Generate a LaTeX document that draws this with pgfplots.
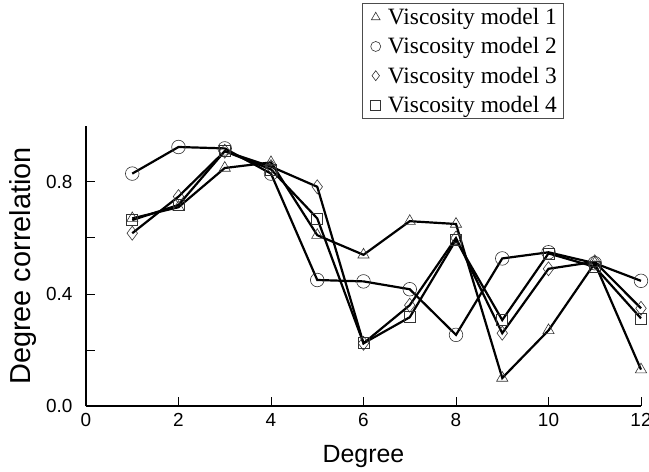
\documentclass[border=0pt]{standalone}
\usepackage{fontspec}
\setmainfont{Liberation Serif}
\setsansfont{Liberation Sans}
\usepackage{pgfplots}
\pgfplotsset{compat=1.18}
\begin{document}
\begin{tikzpicture}
\begin{axis}[
  name=ax,
  scale only axis,
  width=555bp, height=280bp,
  xmin=0, xmax=12, ymin=0, ymax=1.0,
  axis x line=bottom, axis y line=left,
  axis line style={-, line width=2bp},
  tick align=inside,
  major tick length=9bp,
  tick style={line width=1bp, black},
  xtick={0,2,...,12},
  ytick={0,0.2,0.4,0.6,0.8},
  yticklabels={0.0,,0.4,,0.8},
  /pgf/number format/assume math mode=true,
  ticklabel style={font=\sffamily\fontsize{19}{21}\selectfont},
  xticklabel style={yshift=-4bp},
  yticklabel style={xshift=-10bp},
  xlabel={Degree},
  ylabel={Degree correlation},
  xlabel style={font=\sffamily\fontsize{25}{28}\selectfont, yshift=-12bp},
  ylabel style={font=\sffamily\fontsize{29}{32}\selectfont, yshift=3bp},
  clip=false,
  legend style={at={(0.497,1.439)}, anchor=north west, draw=black!70, line width=0.6bp,
    font=\rmfamily\fontsize{23.5}{26}\selectfont, cells={anchor=west},
    row sep=7.5bp, inner sep=3bp, inner xsep=4bp},
  legend image code/.code={\path (0,0) (0.62cm,0); \draw[#1, mark size=5bp] plot coordinates {(0.3cm,0cm)};},
  every axis plot/.append style={line width=2.2bp, black},
]
\addplot[mark=triangle, mark size=6.5bp, mark options={solid, line width=0.6bp, draw=black!80, fill=none}]
 coordinates {(1,0.67)(2,0.71)(3,0.85)(4,0.87)(5,0.61)(6,0.54)(7,0.66)(8,0.65)(9,0.10)(10,0.27)(11,0.51)(12,0.13)};
\addlegendentry{Viscosity model 1}
\addplot[mark=o, mark size=6.8bp, mark options={solid, line width=0.6bp, draw=black!80, fill=none}]
 coordinates {(1,0.83)(2,0.925)(3,0.92)(4,0.83)(5,0.45)(6,0.445)(7,0.417)(8,0.254)(9,0.527)(10,0.549)(11,0.51)(12,0.447)};
\addlegendentry{Viscosity model 2}
\addplot[mark=diamond, mark size=7bp, mark options={solid, line width=0.6bp, draw=black!80, fill=none}]
 coordinates {(1,0.617)(2,0.748)(3,0.91)(4,0.855)(5,0.783)(6,0.224)(7,0.36)(8,0.60)(9,0.26)(10,0.49)(11,0.515)(12,0.349)};
\addlegendentry{Viscosity model 3}
\addplot[mark=square, mark size=5.5bp, mark options={solid, line width=0.6bp, draw=black!80, fill=none}]
 coordinates {(1,0.664)(2,0.718)(3,0.91)(4,0.845)(5,0.67)(6,0.224)(7,0.317)(8,0.593)(9,0.307)(10,0.545)(11,0.497)(12,0.313)};
\addlegendentry{Viscosity model 4}
\end{axis}
\pgfresetboundingbox
\path[use as bounding box] ([xshift=-86bp,yshift=-66bp]ax.south west) rectangle ++(649bp,472bp);
\end{tikzpicture}
\end{document}
